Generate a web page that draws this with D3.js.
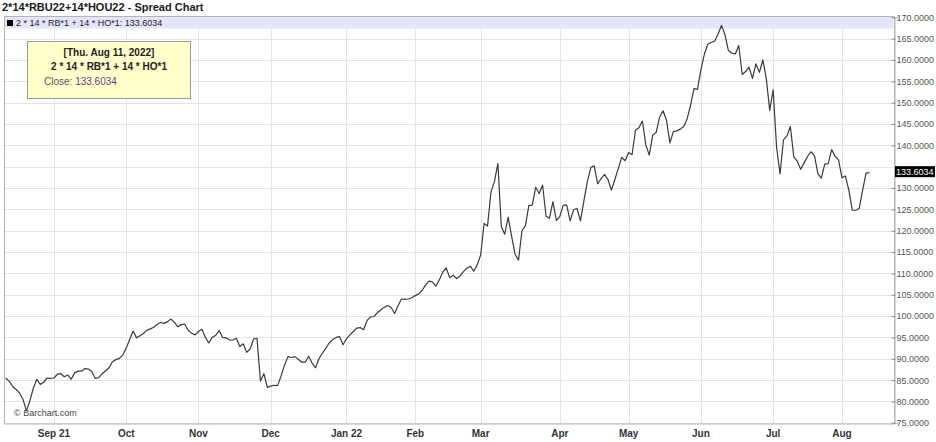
<!DOCTYPE html>
<html>
<head>
<meta charset="utf-8">
<script src="https://cdn.jsdelivr.net/npm/d3@7"></script>
<style>
  html, body { margin: 0; padding: 0; background: #ffffff; }
  svg { display: block; }
</style>
</head>
<body>
<svg id="chart" width="936" height="442"></svg>
<script>
// ---------------- data ----------------
const chartTitle = "2*14*RBU22+14*HOU22 - Spread Chart";
const seriesName = "2 * 14 * RB*1 + 14 * HO*1";
const lastDate = "[Thu. Aug 11, 2022]";
const lastClose = 133.6034;

// daily closes, trading days Aug 12 2021 .. Aug 11 2022
const closes = [
  85.5, 84.7, 83.5, 82.8, 82.0, 80.5, 77.8, 80.2, 83.1, 85.2, 84.0, 84.5, 85.5, 85.4,
  85.5, 86.4, 86.5, 85.8, 86.2, 85.2, 86.7, 87.1, 87.1, 87.7, 87.6, 87.0, 85.4, 85.6,
  86.5, 87.2, 87.9, 89.3, 89.8, 90.1, 90.9, 92.5, 94.5, 96.5, 94.9, 95.4, 95.9, 96.7,
  97.0, 97.4, 98.1, 98.5, 98.3, 98.7, 99.3, 98.5, 97.5, 98.0, 98.1, 96.7, 96.0, 95.6,
  96.4, 96.9, 95.0, 93.7, 95.0, 95.5, 96.6, 95.0, 94.9, 94.4, 94.4, 94.8, 92.9, 93.5,
  91.5, 92.3, 94.6, 94.8, 84.8, 86.5, 83.3, 83.6, 83.8, 83.7, 86.0, 88.5, 90.5,
  90.3, 90.5, 89.9, 89.2, 89.2, 90.6, 89.0, 87.9, 90.0, 91.3, 92.5, 93.7, 94.5, 95.0, 95.2, 93.3, 94.7,
  95.6, 96.4, 97.2, 97.3, 96.8, 99.0, 99.8, 99.9, 100.8, 101.5, 102.1, 102.5, 102.0, 100.6,
  102.5, 104.0, 103.9, 104.0, 104.3, 104.8, 105.2, 106.0, 107.3, 108.2,
  108.0, 107.0, 108.5, 110.3, 111.3,
  109.0, 109.6, 108.8, 109.4, 110.4, 111.2, 111.7, 110.5, 112.0, 114.3, 121.7, 121.1,
  129.1, 131.5, 135.8, 121.0, 119.2, 123.2, 118.7, 114.5, 113.1, 120.0, 121.2, 125.9,
  126.0, 130.2, 128.7, 130.7, 123.4, 122.9, 126.8, 122.4, 123.3, 126.0, 126.0, 122.3,
  124.9, 125.2, 122.3, 127.0, 131.5, 134.8, 135.2, 131.0, 132.2, 133.2, 132.0, 129.5,
  132.0, 134.6, 137.2, 136.4, 138.3, 137.8, 143.6, 144.1, 145.7, 140.1, 137.7, 142.4,
  143.0, 146.6, 148.1, 145.9, 140.6, 143.2, 143.4, 143.8, 144.4, 146.2, 149.4, 153.3,
  153.1, 157.7, 161.3, 163.7, 164.1, 164.4, 166.1, 168.1, 165.9, 162.2, 161.6, 161.4,
  163.4, 156.6, 157.3, 158.3, 155.7, 159.1, 157.1, 160.0, 155.7, 148.2, 153.0, 139.5,
  133.3, 141.3, 142.2, 144.4, 137.3, 136.3, 134.4, 135.9, 137.4, 138.5, 137.6, 133.4,
  132.3, 135.6, 135.7, 139.0, 137.4, 136.6, 132.4, 132.8, 129.5, 124.8, 124.8, 125.2,
  129.5, 133.5, 133.6034
];

// month labels and the trading-day index where each month starts
const monthLabels = ["Sep 21", "Oct", "Nov", "Dec", "Jan 22", "Feb", "Mar", "Apr", "May", "Jun", "Jul", "Aug"];
const monthStarts = [14, 35, 56, 77, 99, 119, 138, 161, 181, 202, 223, 243];

// y-axis ticks
const yTicks = [75, 80, 85, 90, 95, 100, 105, 110, 115, 120, 125, 130, 140, 145, 150, 155, 160, 165, 170];

// ---------------- drawing ----------------
const svg = d3.select("#chart");
const plot = { left: 4, right: 894, top: 16, bottom: 423.5 };

const x = d3.scaleLinear().domain([0, closes.length - 1]).range([5.8, 869.5]);
const y = d3.scaleLinear().domain([75, 170]).range([422.8, 17.3]);

const FONT = "'Liberation Sans', Arial, sans-serif";

// title
svg.append("text")
  .attr("x", 2).attr("y", 11)
  .attr("font-family", FONT).attr("font-weight", "bold").attr("font-size", 11)
  .attr("fill", "#1a1a1a")
  .text(chartTitle);

// plot background
svg.append("rect")
  .attr("x", plot.left).attr("y", plot.top)
  .attr("width", plot.right - plot.left).attr("height", plot.bottom - plot.top)
  .attr("fill", "#ffffff");

// horizontal grid
svg.append("g").selectAll("line")
  .data(d3.range(75, 171, 5))
  .join("line")
  .attr("x1", plot.left).attr("x2", plot.right)
  .attr("y1", d => Math.round(y(d)) + 0.5).attr("y2", d => Math.round(y(d)) + 0.5)
  .attr("stroke", "#e3e3e3").attr("stroke-width", 1);

// vertical grid
svg.append("g").selectAll("line")
  .data(monthStarts)
  .join("line")
  .attr("x1", d => Math.round(x(d)) + 0.5).attr("x2", d => Math.round(x(d)) + 0.5)
  .attr("y1", plot.top).attr("y2", plot.bottom)
  .attr("stroke", "#e3e3e3").attr("stroke-width", 1);

// legend band
svg.append("rect")
  .attr("x", plot.left + 0.5).attr("y", plot.top + 0.5)
  .attr("width", plot.right - plot.left - 1).attr("height", 12)
  .attr("fill", "#e4e4fa");
svg.append("rect")
  .attr("x", 7).attr("y", 20).attr("width", 6).attr("height", 6)
  .attr("fill", "#000");
svg.append("text")
  .attr("x", 16).attr("y", 26)
  .attr("font-family", FONT).attr("font-size", 9)
  .attr("fill", "#222")
  .text(seriesName + ": " + d3.format(".4f")(lastClose));

// frame
svg.append("path")
  .attr("d", `M${plot.left + 0.5},${plot.bottom}V${plot.top + 0.5}H${plot.right + 0.5}V${plot.bottom}`)
  .attr("fill", "none").attr("stroke", "#b4b4b4");
svg.append("line")
  .attr("x1", plot.left).attr("x2", plot.right + 1)
  .attr("y1", plot.bottom + 0.5).attr("y2", plot.bottom + 0.5)
  .attr("stroke", "#b4b4b4");

// line
const line = d3.line().x((d, i) => x(i)).y(d => y(d));
svg.append("path")
  .datum(closes)
  .attr("d", line)
  .attr("fill", "none")
  .attr("stroke", "#3a3a3a")
  .attr("stroke-width", 1.2)
  .attr("stroke-linejoin", "round");

// right axis
const yAxis = d3.axisRight(y).tickValues(yTicks).tickSize(4).tickPadding(2)
  .tickFormat(d3.format(".4f"));
const gy = svg.append("g")
  .attr("transform", `translate(${plot.right + 0.5},0)`)
  .call(yAxis);
gy.select(".domain").attr("stroke", "#b4b4b4");
gy.selectAll(".tick line").attr("stroke", "#888").attr("x1", -3).attr("x2", 1);
gy.selectAll(".tick text")
  .attr("font-family", FONT).attr("font-size", 9).attr("fill", "#555").attr("x", 2);

// last price label
const lastY = y(lastClose);
svg.append("rect")
  .attr("x", 895).attr("y", lastY - 6.5).attr("width", 40).attr("height", 11)
  .attr("fill", "#000");
svg.append("text")
  .attr("x", 896).attr("y", lastY + 2.5)
  .attr("font-family", FONT).attr("font-size", 9).attr("fill", "#fff")
  .text(d3.format(".4f")(lastClose));

// x axis labels
svg.append("g").selectAll("text")
  .data(monthStarts)
  .join("text")
  .attr("x", d => x(d)).attr("y", 437)
  .attr("text-anchor", "middle")
  .attr("font-family", "'Liberation Sans Narrow', 'Liberation Sans', Arial, sans-serif")
  .attr("font-weight", "bold").attr("font-size", 10).attr("fill", "#333")
  .text((d, i) => monthLabels[i]);

// watermark
svg.append("text")
  .attr("x", 14).attr("y", 416)
  .attr("font-family", FONT).attr("font-size", 9).attr("fill", "#444")
  .text("\u00A9 Barchart.com");

// tooltip box
const tip = svg.append("g");
tip.append("rect")
  .attr("x", 27.5).attr("y", 41.5).attr("width", 163).attr("height", 57)
  .attr("fill", "#ffffcc").attr("stroke", "#999");
tip.append("text")
  .attr("x", 109).attr("y", 56).attr("text-anchor", "middle")
  .attr("font-family", FONT).attr("font-weight", "bold").attr("font-size", 10).attr("fill", "#222")
  .text(lastDate);
tip.append("text")
  .attr("x", 109).attr("y", 70).attr("text-anchor", "middle")
  .attr("font-family", FONT).attr("font-weight", "bold").attr("font-size", 10).attr("fill", "#222")
  .text(seriesName);
const closeT = tip.append("text")
  .attr("x", 44).attr("y", 85)
  .attr("font-family", FONT).attr("font-size", 10);
closeT.append("tspan").attr("fill", "#555").text("Close: ");
closeT.append("tspan").attr("fill", "#6a3d8f").text(d3.format(".4f")(lastClose));
</script>
</body>
</html>
